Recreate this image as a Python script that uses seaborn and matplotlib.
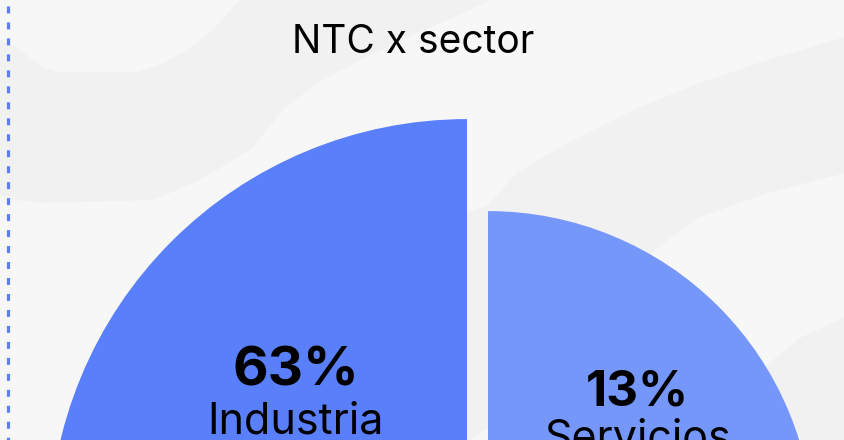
import matplotlib
matplotlib.use("Agg")
import matplotlib.pyplot as plt
import seaborn as sns
import numpy as np
from matplotlib.patches import Polygon
from matplotlib.lines import Line2D

# data (only the two upper sectors of the rose chart are inside the crop)
sectors = ["Industria", "Servicios"]
shares = [63, 13]  # % of NTC
sector_colors = ["#5a7ffa", "#7697fa"]
chart_title = "NTC x sector"

sns.set_theme(style="white")
plt.rcParams["font.family"] = ["Inter", "DejaVu Sans"]

W, H = 845, 440
fig = plt.figure(figsize=(W / 100, H / 100), dpi=100)
fig.patch.set_facecolor("#f7f7f7")


def bg_shape(pts, color="#f1f1f1"):
    # pts in image pixels (y down)
    xy = [(x / W, 1 - y / H) for x, y in pts]
    fig.add_artist(Polygon(xy, closed=True, transform=fig.transFigure,
                           facecolor=color, edgecolor="none", zorder=-2))


# soft background bands
bg_shape([(0, 40), (15, 47), (43, 67), (57, 72), (137, 72), (160, 65), (187, 50),
          (213, 30), (240, 0), (490, 0), (470, 10), (417, 33), (367, 57), (317, 83),
          (283, 110), (250, 150), (200, 180), (153, 200), (43, 203), (15, 200), (0, 195)])
bg_shape([(845, 37), (767, 60), (700, 83), (633, 110), (567, 143), (517, 173),
          (488, 205), (467, 213), (400, 280), (350, 440), (470, 440), (488, 428),
          (540, 365), (600, 300), (667, 240), (700, 217), (767, 193), (845, 173)])
bg_shape([(845, 317), (800, 338), (767, 365), (745, 440), (845, 440)])

# dashed guide on the left
lw = 2.3
fig.add_artist(Line2D([8 / W, 8 / W], [1 - 6 / H, 0], transform=fig.transFigure,
                      color="#5a7ffa", lw=lw, dashes=(5.0 / lw, 6.5 / lw), zorder=-1))

ax = fig.add_axes([0, 0, 1, 1])
ax.set_facecolor("none")

# rose chart: equal angles, radius grows with the share
n_sectors = 4
center = np.array([477.5, -107.5])
gap = 14.85
r_base, r_step = 302, 1.84
counterclock = [True, False]
label_frac = [0.58, 0.65]
pct_size = [39.5, 35.5]
pct_drop = [20, 18]
name_drop = [68, 63]

for i, (name, val, col) in enumerate(zip(sectors, shares, sector_colors)):
    r = r_base + r_step * val
    ax.pie([1 / n_sectors], normalize=False, radius=r, center=tuple(center),
           startangle=90, counterclock=counterclock[i], explode=[gap],
           colors=[col], wedgeprops=dict(linewidth=0))
    mid = np.deg2rad(90 + (45 if counterclock[i] else -45))
    d = np.array([np.cos(mid), np.sin(mid)])
    anchor = center + gap * d + label_frac[i] * r * d
    ax.text(anchor[0], anchor[1] - pct_drop[i], f"{val}%", ha="center", va="baseline",
            fontsize=pct_size[i], fontweight="bold", color="black")
    ax.text(anchor[0], anchor[1] - name_drop[i], name, ha="center", va="baseline",
            fontsize=31, color="black")

ax.text(413, H - 53, chart_title, ha="center", va="baseline", fontsize=28, color="black")

ax.set_xlim(0, W)
ax.set_ylim(0, H)
ax.set_aspect("equal")
ax.axis("off")

fig.savefig("out.png", dpi=100, facecolor=fig.get_facecolor())
